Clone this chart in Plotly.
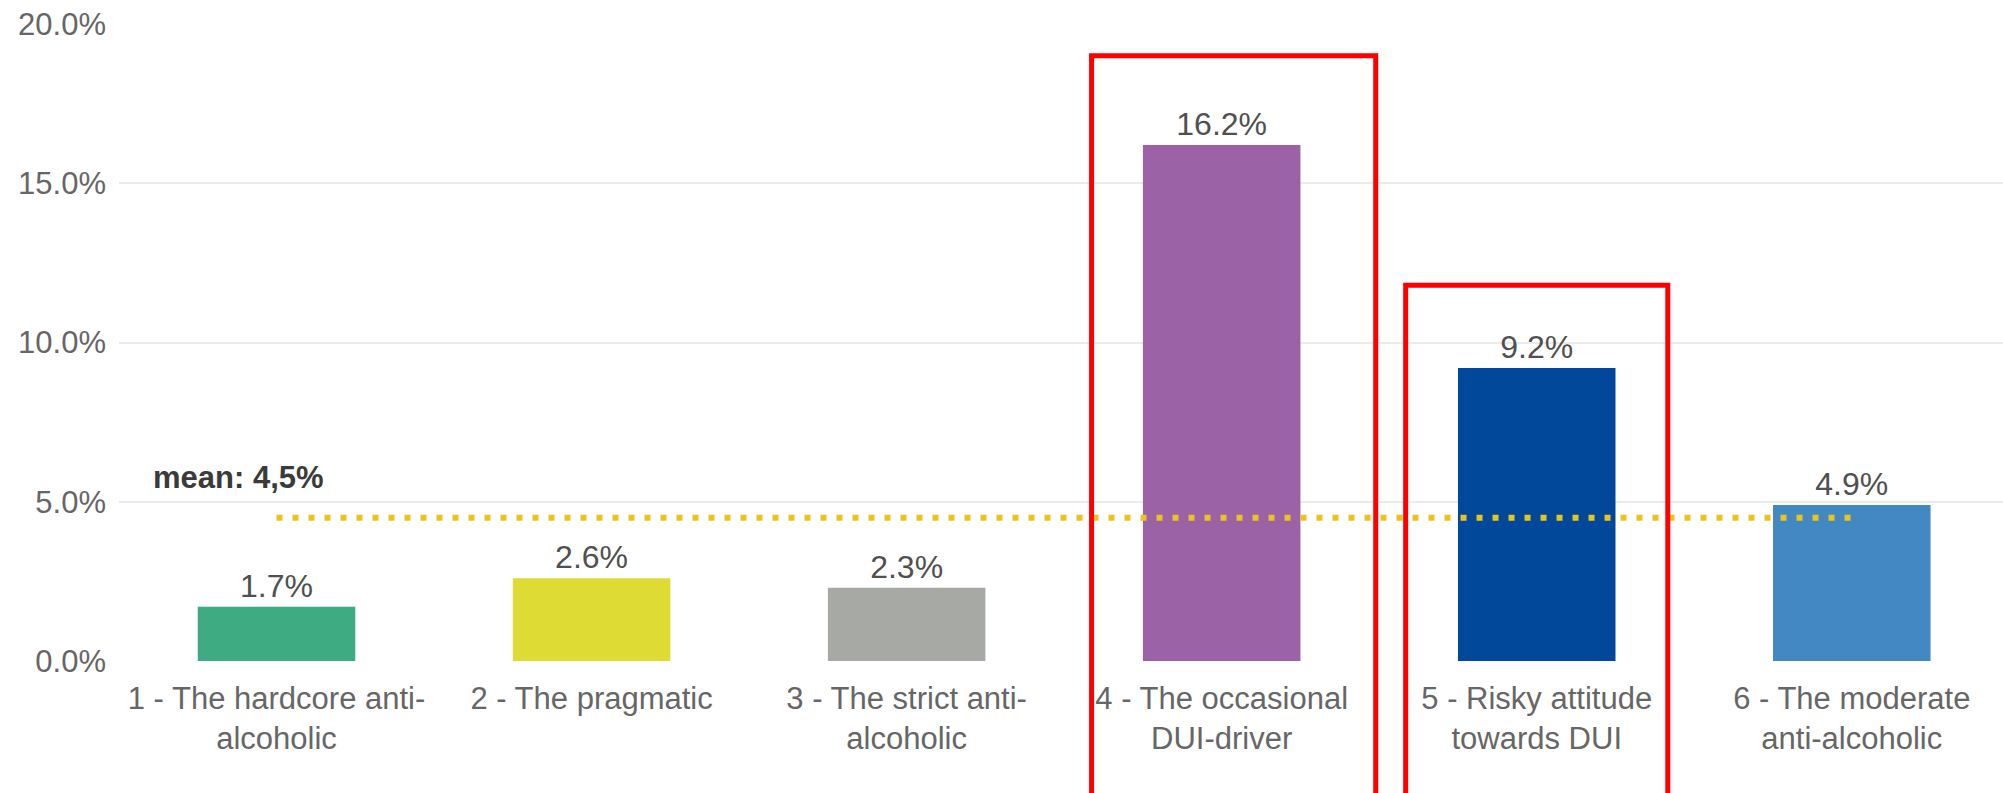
import plotly.graph_objects as go

# Segment labels, shares (%) and colours
categories = [
    "1 - The hardcore anti-<br>alcoholic",
    "2 - The pragmatic",
    "3 - The strict anti-<br>alcoholic",
    "4 - The occasional<br>DUI-driver",
    "5 - Risky attitude<br>towards DUI",
    "6 - The moderate<br>anti-alcoholic",
]
shares = [1.7, 2.6, 2.3, 16.2, 9.2, 4.9]
bar_colors = ["#3FAB83", "#DEDB35", "#A7A9A5", "#9B62A6", "#02489A", "#4388C3"]
mean_share = 4.5
mean_label = "mean: 4,5%"
y_ticks = [0, 5, 10, 15, 20]
y_tick_labels = ["0.0%", "5.0%", "10.0%", "15.0%", "20.0%"]
Y_MAX = 20

# Highlighted segments: (category index, left offset, right offset, top value)
highlights = [(3, -0.413, 0.489, 19.0), (4, -0.416, 0.416, 11.8)]

FONT = "Liberation Sans, Arial, sans-serif"
positions = list(range(len(categories)))

fig = go.Figure()

fig.add_trace(go.Bar(
    x=positions,
    y=shares,
    width=0.5,
    marker=dict(color=bar_colors, line=dict(width=0)),
    text=[f"{v:.1f}%" for v in shares],
    textposition="outside",
    textfont=dict(family=FONT, size=32, color="#505050"),
    cliponaxis=False,
    showlegend=False,
    hoverinfo="skip",
))

# Mean line across the segments
fig.add_trace(go.Scatter(
    x=[positions[0], positions[-1]],
    y=[mean_share, mean_share],
    mode="lines",
    line=dict(color="#EDC31A", width=6, dash="6px,10px"),
    showlegend=False,
    hoverinfo="skip",
))

fig.add_annotation(
    x=-0.4, y=mean_share, xref="x", yref="y",
    text=f"<b>{mean_label}</b>",
    showarrow=False, xanchor="left", yanchor="middle", yshift=40,
    font=dict(family=FONT, size=31, color="#3A3A3A"),
)

# Red frames run from the value down past the bottom edge of the figure
for idx, lo, hi, top in highlights:
    fig.add_shape(
        type="rect", xref="x", yref="paper",
        x0=positions[idx] + lo, x1=positions[idx] + hi,
        y0=-0.4, y1=top / Y_MAX,
        line=dict(color="#FF0000", width=5),
        fillcolor="rgba(0,0,0,0)",
        layer="above",
    )

fig.update_layout(
    width=2003, height=793,
    margin=dict(l=119, r=0, t=24, b=132),
    paper_bgcolor="white", plot_bgcolor="white",
    font=dict(family=FONT, color="#666666"),
    xaxis=dict(
        range=[-0.5, 5.48],
        tickvals=positions, ticktext=categories,
        tickfont=dict(family=FONT, size=31, color="#666666"),
        showgrid=False, zeroline=False, showline=False,
        ticks="", ticklabelstandoff=16,
    ),
    yaxis=dict(
        range=[0, Y_MAX],
        tickvals=y_ticks, ticktext=y_tick_labels,
        tickfont=dict(family=FONT, size=31, color="#666666"),
        showgrid=True, gridcolor="#EBEBEB", gridwidth=2,
        zeroline=False, showline=False, ticks="",
        ticklabelstandoff=12,
    ),
)

fig.write_html("out.html")
